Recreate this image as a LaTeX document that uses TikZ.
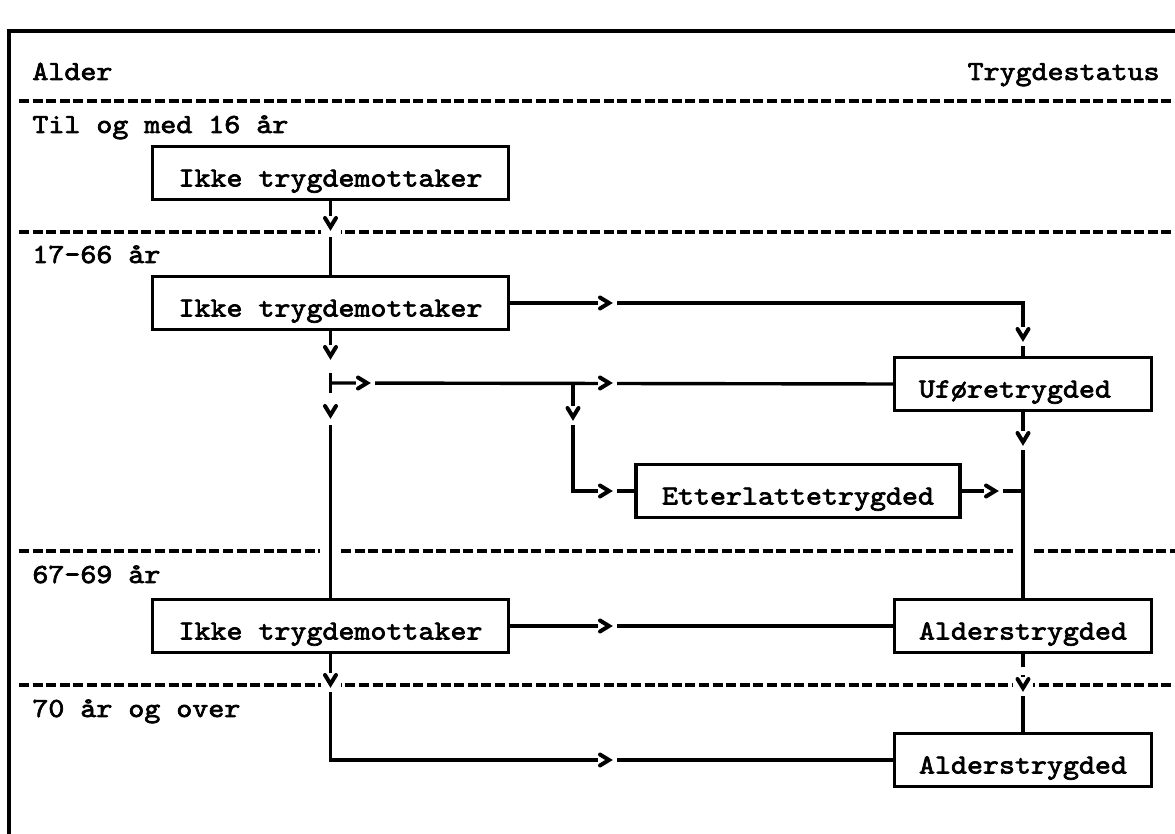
\documentclass[tikz,border=0pt]{standalone}
\usepackage{fontspec}
\newfontfamily\tw{lmmono10-regular.otf}[FakeBold=2.5, FakeStretch=1.104]
\newcommand{\rb}[1]{\makebox[104pt][l]{#1}}
\tikzset{
  lw/.style={line width=1.7pt},
  txt/.style={font=\tw\fontsize{13.8pt}{16pt}\selectfont},
  box/.style={draw, lw, txt, inner xsep=0pt, inner ysep=0pt,
              text height=20pt, text depth=6.5pt},
  leftbox/.style={box, minimum width=178pt},
  rightbox/.style={box, minimum width=128.5pt},
  etbox/.style={box, minimum width=162pt},
  lbl/.style={inner sep=0pt, txt},
  sep/.style={lw, dash pattern=on 5pt off 1.8pt},
  conn/.style={lw},
  gap/.style={fill=white, draw=none},
  chev/.pic={
    \fill[white] (-11,-10) rectangle (8,10);
    \draw[line width=2pt, line cap=round, line join=miter] (-9,-5.5) -- (0,0) -- (-9,5.5);
  }
}
\begin{document}
\begin{tikzpicture}[x=0.5pt, y=-0.5pt]
\useasboundingbox (0,0) rectangle (1175,834);
% frame
\draw[lw] (9,834) -- (9,31) -- (1175,31);
% separators
\draw[sep] (19,101) -- (1175,101);
\draw[sep] (19,232) -- (1175,232);
\draw[sep] (19,551) -- (320,551);
\draw[sep] (341,551) -- (1013,551);
\draw[sep] (1034,551) -- (1175,551);
\draw[sep] (19,685) -- (1175,685);
% labels
\node[lbl, anchor=base west] (alder) at (32,80) {Alder};
\node[lbl, anchor=base east] (status) at (1160,80) {Trygdestatus};
\node[lbl, anchor=base west] (r1) at (32,133) {Til og med 16 år};
\node[lbl, anchor=base west] (r2) at (32,263) {17-66 år};
\node[lbl, anchor=base west] (r3) at (32,583) {67-69 år};
\node[lbl, anchor=base west] (r4) at (32,717) {70 år og over};
% boxes
\node[leftbox] (b1) at (330.5,173) {Ikke trygdemottaker};
\node[leftbox] (b2) at (330.5,303) {Ikke trygdemottaker};
\node[leftbox] (b3) at (330.5,626) {Ikke trygdemottaker};
\node[rightbox] (uf) at (1023,384) {\rb{Uføretrygded}};
\node[etbox] (et) at (798,491) {Etterlattetrygded};
\node[rightbox] (a1) at (1023,626) {\rb{Alderstrygded}};
\node[rightbox] (a2) at (1023,760) {\rb{Alderstrygded}};
\coordinate (J) at (330.5,383);
\coordinate (K) at (573,383);
% connectors
\draw[conn] (b1) -- (b2);
\draw[conn] (b2.east) -| (uf.north);
\draw[conn] (b2) -- (b3);
\draw[conn] (J) -- (uf.west);
\draw[conn] (K) |- (et.west);
\draw[conn] (et.east) -- (et.east -| uf);
\draw[conn] (uf) -- (a1);
\draw[conn] (b3) -- (a1);
\draw[conn] (a1) -- (a2);
\draw[conn] (b3.south) |- (a2.west);
% gaps in the lines
\fill[gap] (325,356) rectangle (336,373);
\fill[gap] (325,393) rectangle (336,405);
\fill[gap] (325,415) rectangle (336,425);
\fill[gap] (325,227) rectangle (336,237);
\fill[gap] (1017,667) rectangle (1029,675);
\fill[gap] (567,417) rectangle (579,425);
% arrowheads
\pic[rotate=-90] at (330.5,227) {chev};
\pic at (609,303) {chev};
\pic[rotate=-90] at (1023,338) {chev};
\pic[rotate=-90] at (330.5,356) {chev};
\pic at (367,383) {chev};
\pic at (609,383) {chev};
\pic[rotate=-90] at (573,417) {chev};
\pic[rotate=-90] at (330.5,415) {chev};
\pic at (609,491) {chev};
\pic at (995,491) {chev};
\pic[rotate=-90] at (1023,442) {chev};
\pic at (609,626) {chev};
\pic[rotate=-90] at (330.5,684) {chev};
\pic[rotate=-90] at (1023,688) {chev};
\pic at (609,760) {chev};
\end{tikzpicture}
\end{document}
